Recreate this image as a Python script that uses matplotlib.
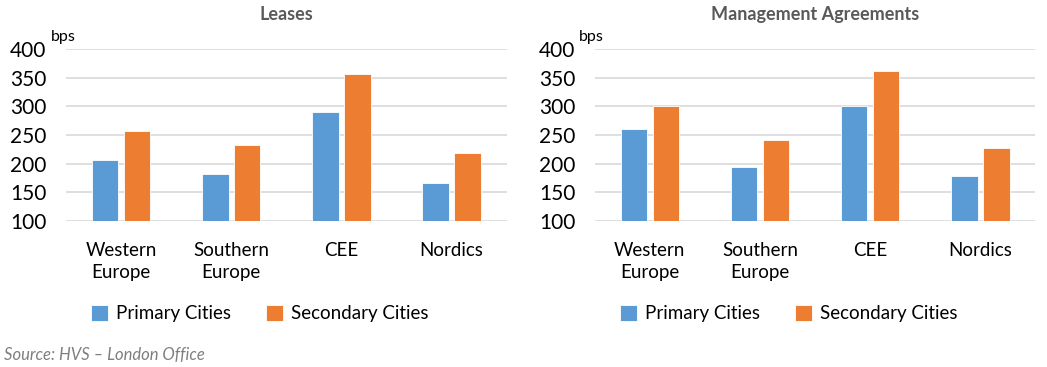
import matplotlib.pyplot as plt
import numpy as np

plt.rcParams['font.family'] = ['Lato', 'DejaVu Sans']

regions = ["Western\nEurope", "Southern\nEurope", "CEE", "Nordics"]
series_names = ["Primary Cities", "Secondary Cities"]
leases_primary = [206, 182, 290, 167]
leases_secondary = [257, 233, 356, 218]
mgmt_primary = [260, 194, 300, 179]
mgmt_secondary = [300, 242, 362, 227]
yticks = [100, 150, 200, 250, 300, 350, 400]

blue = "#5B9BD5"
orange = "#ED7D31"
grey_text = "#595959"

fig = plt.figure(figsize=(10.47, 3.67), dpi=100)
ax1 = fig.add_axes([0.063, 0.398, 0.421, 0.468])
ax2 = fig.add_axes([0.568, 0.398, 0.421, 0.468])


def draw_panel(ax, title, primary, secondary):
    ind = np.arange(len(regions))
    width = 0.24
    ax.bar(ind - 0.145, primary, width, bottom=0, color=blue, edgecolor="white",
           linewidth=0.6, zorder=3, label=series_names[0])
    ax.bar(ind + 0.145, secondary, width, bottom=0, color=orange, edgecolor="white",
           linewidth=0.6, zorder=3, label=series_names[1])
    ax.set_ylim(100, 400)
    ax.set_xlim(-0.5, 3.5)
    ax.set_yticks(yticks)
    ax.set_xticks(ind)
    ax.set_xticklabels(regions, fontsize=13.5, linespacing=1.35)
    ax.tick_params(axis="y", labelsize=15, length=0, pad=14)
    ax.tick_params(axis="x", length=0, pad=15)
    ax.grid(axis="y", color="#D9D9D9", linewidth=1.2, zorder=0)
    for s in ax.spines.values():
        s.set_visible(False)
    ax.set_title(title, fontsize=13, fontweight="bold", color=grey_text, pad=21)
    ax.text(-0.035, 1.03, "bps", transform=ax.transAxes, fontsize=11.5, ha="left", va="bottom")
    ax.legend(loc="center", bbox_to_anchor=(0.44, -0.54), ncol=2, frameon=False,
              fontsize=13.5, handlelength=0.9, handleheight=0.9, handletextpad=0.4,
              columnspacing=1.9)


draw_panel(ax1, "Leases", leases_primary, leases_secondary)
draw_panel(ax2, "Management Agreements", mgmt_primary, mgmt_secondary)

fig.text(0.004, 0.01, "Source: HVS \u2013 London Office", fontsize=12, style="italic",
         color="#7F7F7F", ha="left", va="bottom")

fig.savefig("out.png", dpi=100)
